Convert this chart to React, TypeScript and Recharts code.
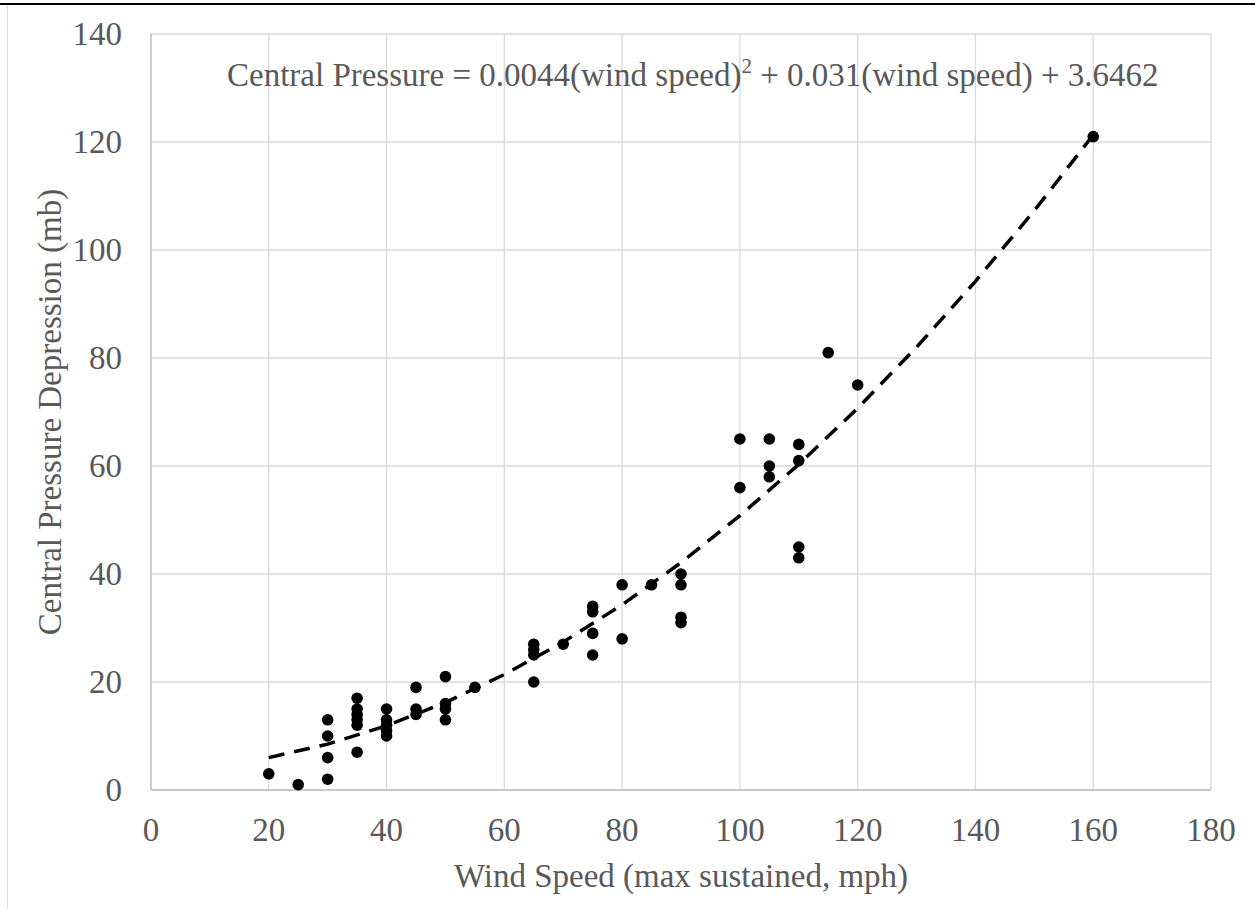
import React from "react";
import { ScatterChart, Scatter, XAxis, YAxis, CartesianGrid } from "recharts";

// observed storms: wind speed (mph) vs central pressure depression (mb)
const windSpeed = [
  20, 25, 30, 30, 30, 30, 35, 35, 35, 35, 35, 35, 40, 40, 40, 40, 40, 45, 45, 45,
  50, 50, 50, 50, 55, 65, 65, 65, 65, 70, 75, 75, 75, 75, 80, 80, 85, 90, 90, 90,
  90, 100, 100, 105, 105, 105, 110, 110, 110, 110, 115, 120, 160,
];
const pressureDrop = [
  3, 1, 13, 10, 6, 2, 17, 15, 14, 13, 12, 7, 15, 13, 12, 11, 10, 19, 15, 14,
  21, 16, 15, 13, 19, 27, 26, 25, 20, 27, 34, 33, 29, 25, 38, 28, 38, 40, 38, 32,
  31, 65, 56, 65, 60, 58, 64, 61, 45, 43, 81, 75, 121,
];

// trend curve as drawn
const trendX = [20, 30, 40, 50, 60, 70, 80, 90, 100, 110, 120, 130, 140, 150, 160];
const trendY = [6.0, 8.5, 11.9, 16.2, 21.4, 27.4, 34.3, 42.1, 50.8, 60.3, 70.7, 82.0, 94.2, 107.3, 121.3];

const xTicks = [0, 20, 40, 60, 80, 100, 120, 140, 160, 180];
const yTicks = [0, 20, 40, 60, 80, 100, 120, 140];

const points = windSpeed.map((w, i) => ({ x: w, y: pressureDrop[i] }));
const trend = trendX.map((w, i) => ({ x: w, y: trendY[i] }));

const FONT = "'Liberation Serif', 'Times New Roman', serif";
const TEXT = "#595959";
const FS = 33;

const XTick = (props: any) => (
  <text x={props.x} y={props.y + 51} textAnchor="middle" fontSize={FS} fontFamily={FONT} fill={TEXT}>
    {props.payload.value}
  </text>
);

const YTick = (props: any) => (
  <text x={props.x - 29} y={props.y + 11} textAnchor="end" fontSize={FS} fontFamily={FONT} fill={TEXT}>
    {props.payload.value}
  </text>
);

const Dot = (props: any) => <circle cx={props.cx} cy={props.cy} r={5.8} fill="#000" />;
const NoDot = () => <g />;

export default function App() {
  return (
    <div style={{ position: "absolute", left: 0, top: 0, width: 1255, height: 909, background: "#fff" }}>
      <ScatterChart width={1255} height={909} margin={{ top: 34, right: 44, left: 0, bottom: 0 }}>
        <CartesianGrid stroke="#d9d9d9" strokeWidth={1.3} />
        <XAxis
          type="number"
          dataKey="x"
          domain={[0, 180]}
          ticks={xTicks}
          height={119}
          tickSize={0}
          tickMargin={0}
          tickLine={false}
          axisLine={{ stroke: "#bfbfbf", strokeWidth: 1.3 }}
          tick={<XTick />}
          label={{
            content: () => (
              <text x={681} y={887} textAnchor="middle" fontSize={FS} fontFamily={FONT} fill={TEXT}>
                Wind Speed (max sustained, mph)
              </text>
            ),
          }}
        />
        <YAxis
          type="number"
          dataKey="y"
          domain={[0, 140]}
          ticks={yTicks}
          width={151}
          tickSize={0}
          tickMargin={0}
          tickLine={false}
          axisLine={{ stroke: "#bfbfbf", strokeWidth: 1.3 }}
          tick={<YTick />}
          label={{
            content: () => (
              <text
                x={0}
                y={0}
                transform="translate(61 412) rotate(-90)"
                textAnchor="middle"
                fontSize={FS}
                fontFamily={FONT}
                fill={TEXT}
              >
                Central Pressure Depression (mb)
              </text>
            ),
          }}
        />
        <Scatter data={points} shape={<Dot />} isAnimationActive={false} />
        <Scatter
          data={trend}
          shape={<NoDot />}
          line={{ stroke: "#000", strokeWidth: 3.5, strokeDasharray: "16 10" }}
          lineType="joint"
          isAnimationActive={false}
        />
      </ScatterChart>
      <svg width={1255} height={909} style={{ position: "absolute", left: 0, top: 0, pointerEvents: "none" }}>
        <line x1={0} y1={4} x2={1255} y2={4} stroke="#000" strokeWidth={2} />
        <line x1={7.5} y1={5} x2={7.5} y2={909} stroke="#d9d9d9" strokeWidth={1} />
        <text x={227} y={86} fontSize={FS} fontFamily={FONT} fill={TEXT}>
          Central Pressure = 0.0044(wind speed)
          <tspan dy={-13} fontSize={21}>2</tspan>
          <tspan dy={13}> + 0.031(wind speed) + 3.6462</tspan>
        </text>
      </svg>
    </div>
  );
}
